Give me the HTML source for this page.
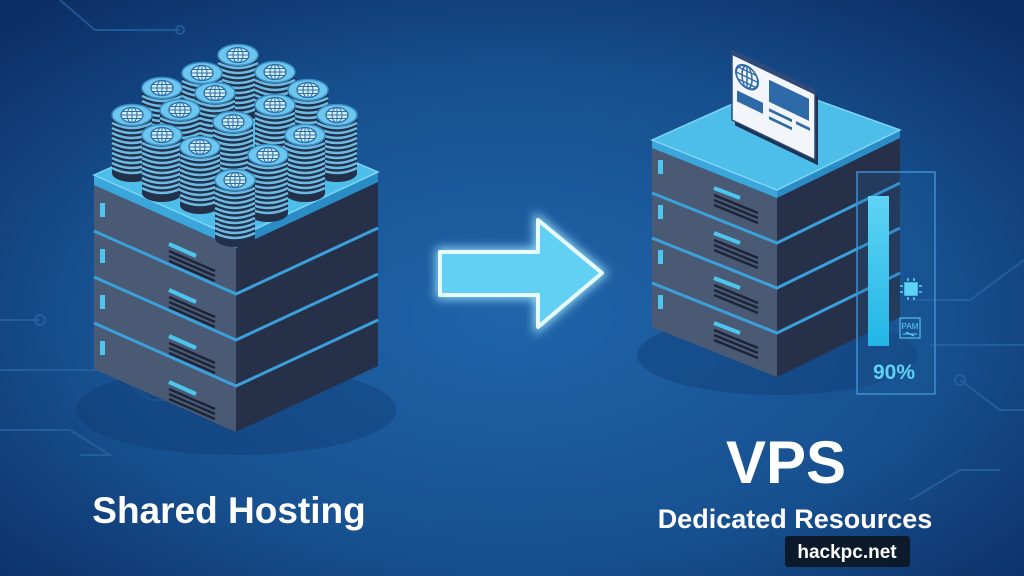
<!DOCTYPE html>
<html><head><meta charset="utf-8"><style>
html,body{margin:0;padding:0;width:1024px;height:576px;overflow:hidden;background:#114080}
svg{display:block}
text{font-family:"Liberation Sans",sans-serif;font-weight:bold}
</style></head><body>
<svg width="1024" height="576" viewBox="0 0 1024 576" xmlns="http://www.w3.org/2000/svg">
<defs>
<radialGradient id="bg" cx="0.5" cy="0.55" r="0.7">
<stop offset="0" stop-color="#1f64aa"/><stop offset="0.6" stop-color="#17508f"/><stop offset="1" stop-color="#0c2f66"/>
</radialGradient>
<linearGradient id="bar" x1="0" y1="0" x2="0" y2="1"><stop offset="0" stop-color="#5fd3f5"/><stop offset="1" stop-color="#22b6e6"/></linearGradient>
<filter id="glow" x="-30%" y="-30%" width="160%" height="160%"><feGaussianBlur stdDeviation="5"/></filter>
<g id="stack">
<rect x="-20" y="0" width="40" height="58" fill="#223049"/>
<ellipse cx="0" cy="58" rx="20" ry="9" fill="#223049"/>
<g stroke="#6cb9e2" stroke-width="2.5" fill="none">
<path d="M-20 8 Q0 18 20 8"/><path d="M-20 13 Q0 23 20 13"/><path d="M-20 18 Q0 28 20 18"/><path d="M-20 23 Q0 33 20 23"/><path d="M-20 28 Q0 38 20 28"/><path d="M-20 33 Q0 43 20 33"/><path d="M-20 38 Q0 48 20 38"/><path d="M-20 43 Q0 53 20 43"/><path d="M-20 48 Q0 58 20 48"/><path d="M-20 53 Q0 63 20 53"/>
</g>
<ellipse cx="0" cy="0" rx="20" ry="10.5" fill="#6cc6ee" stroke="#3a8dc4" stroke-width="1.5"/>
<ellipse cx="0" cy="0" rx="11" ry="7.5" fill="#d6f0fb" stroke="#2d6fa8" stroke-width="1.3"/>
<path d="M-11 0H11M0 -7.5V7.5M-10 -3.5H10M-10 3.5H10" stroke="#2d6fa8" stroke-width="1"/>
<ellipse cx="0" cy="0" rx="5" ry="7.5" fill="none" stroke="#2d6fa8" stroke-width="1"/>
</g>
</defs>
<rect width="1024" height="576" fill="url(#bg)"/>
<g stroke="#2a67a6" stroke-width="2" fill="none" opacity="0.7">
<path d="M60 0 L95 30 H180"/><circle cx="180" cy="30" r="4"/>
<path d="M0 320 H40"/><circle cx="40" cy="320" r="5"/>
<path d="M0 370 H110 L150 400 H215"/>
<path d="M0 430 H70 L110 455 H80"/>
<path d="M910 300 H970 L1024 260"/>
<path d="M960 380 L1000 410 H1024"/><circle cx="960" cy="380" r="5"/>
<path d="M1000 470 H960 L910 500"/>
<path d="M930 345 H1024"/>
</g>

<!-- LEFT SERVER -->
<ellipse cx="236" cy="410" rx="160" ry="45" fill="#0f3a70" opacity="0.4"/>
<path d="M94 185 L236 248 L236 432 L94 369Z" fill="#4b5a74"/>
<path d="M236 248 L378 182 L378 366 L236 432Z" fill="#263149"/>
<g stroke="#3b9fda" stroke-width="3" fill="none">
<path d="M94 231 L236 294 L378 228"/><path d="M94 277 L236 340 L378 274"/><path d="M94 323 L236 386 L378 320"/>
</g>
<g fill="#4cc6ee">
<rect x="100" y="203" width="5" height="14"/><rect x="100" y="249" width="5" height="14"/><rect x="100" y="295" width="5" height="14"/><rect x="100" y="341" width="5" height="14"/>
</g>
<g id="ventL">
<path d="M169 244 L196 256" stroke="#4cc6ee" stroke-width="4"/>
<path d="M169 251 L215 271 M169 256 L215 276 M169 261 L215 281" stroke="#1c2538" stroke-width="2.5"/>
</g>
<use href="#ventL" y="46"/><use href="#ventL" y="92"/><use href="#ventL" y="138"/>
<path d="M94 175 L236 238 L236 248 L94 185Z" fill="#3aa6dc"/>
<path d="M236 238 L378 172 L378 182 L236 248Z" fill="#2a8cc4"/>
<path d="M94 175 L236 112 L378 172 L236 238Z" fill="#4dbde9" stroke="#7dd4f4" stroke-width="1.5"/>
<use href="#stack" x="238" y="55"/>
<use href="#stack" x="275" y="72"/>
<use href="#stack" x="202" y="73"/>
<use href="#stack" x="162" y="88"/>
<use href="#stack" x="308" y="90"/>
<use href="#stack" x="215" y="93"/>
<use href="#stack" x="275" y="105"/>
<use href="#stack" x="180" y="110"/>
<use href="#stack" x="132" y="115"/>
<use href="#stack" x="337" y="115"/>
<use href="#stack" x="233" y="122"/>
<use href="#stack" x="162" y="135"/>
<use href="#stack" x="305" y="135"/>
<use href="#stack" x="200" y="147"/>
<use href="#stack" x="268" y="155"/>
<use href="#stack" x="235" y="180"/>

<!-- ARROW -->
<path d="M440 252 H538 V220 L602 273 L538 327 V295 H440Z" fill="#9fe6ff" stroke="#9fe6ff" stroke-width="8" filter="url(#glow)" opacity="0.9"/>
<path d="M440 252 H538 V220 L602 273 L538 327 V295 H440Z" fill="#62d0f3" stroke="#e6fbff" stroke-width="4" stroke-linejoin="round"/>

<!-- RIGHT SERVER -->
<ellipse cx="777" cy="355" rx="140" ry="40" fill="#0f3a70" opacity="0.4"/>
<path d="M652 148 L777 198 L777 377 L652 327Z" fill="#4b5a74"/>
<path d="M777 198 L900 138 L900 317 L777 377Z" fill="#263149"/>
<g stroke="#3b9fda" stroke-width="3" fill="none">
<path d="M652 193 L777 243 L900 183"/><path d="M652 238 L777 288 L900 228"/><path d="M652 283 L777 333 L900 273"/>
</g>
<g fill="#4cc6ee">
<rect x="658" y="160" width="5" height="14"/><rect x="658" y="205" width="5" height="14"/><rect x="658" y="250" width="5" height="14"/><rect x="658" y="295" width="5" height="14"/>
</g>
<g id="ventR">
<path d="M714 188 L740 198" stroke="#4cc6ee" stroke-width="4"/>
<path d="M714 195 L758 213 M714 200 L758 218 M714 205 L758 223" stroke="#1c2538" stroke-width="2.5"/>
</g>
<use href="#ventR" y="45"/><use href="#ventR" y="90"/><use href="#ventR" y="135"/>
<path d="M652 140 L777 190 L777 198 L652 148Z" fill="#3aa6dc"/>
<path d="M777 190 L900 130 L900 138 L777 198Z" fill="#2a8cc4"/>
<path d="M652 140 L775 85 L900 130 L777 190Z" fill="#4dbde9" stroke="#7dd4f4" stroke-width="1.5"/>
<!-- browser card -->
<g transform="translate(732,50) skewY(25.6)">
<rect x="3" y="4" width="83" height="70" fill="#1d3356"/>
<rect x="0" y="0" width="83" height="70" fill="#f2f6fb" stroke="#2d4a78" stroke-width="1.5"/>
<rect x="0" y="0" width="83" height="5" fill="#2d4a78"/>
<circle cx="15" cy="20" r="11" fill="none" stroke="#2d6aa8" stroke-width="2"/>
<path d="M4 20H26M15 9V31M6 14H24M6 26H24" stroke="#2d6aa8" stroke-width="1.5"/>
<ellipse cx="15" cy="20" rx="5" ry="11" fill="none" stroke="#2d6aa8" stroke-width="1.5"/>
<rect x="37" y="12" width="40" height="22" fill="#2f6aa8"/>
<rect x="5" y="38" width="26" height="11" fill="#2f6aa8"/>
<path d="M37 42H60M64 42H78M37 50H60" stroke="#2f6aa8" stroke-width="3"/>
</g>
<!-- resource panel -->
<rect x="857" y="172" width="78" height="222" fill="#1a5a9a" fill-opacity="0.25" stroke="#3e8ed0" stroke-width="1.5"/>
<rect x="868" y="196" width="21" height="150" fill="url(#bar)"/>
<g stroke="#5fd3f5" stroke-width="1.5" fill="none">
<rect x="905" y="283" width="12" height="12" fill="#5fd3f5"/>
<path d="M908 278V281M914 278V281M908 297V300M914 297V300M900 286H903M900 292H903M919 286H922M919 292H922"/>
<rect x="900" y="318" width="20" height="20" stroke-width="1"/>
</g>
<text x="910" y="329" font-size="8" fill="#5fd3f5" text-anchor="middle" style="font-weight:normal">PAM</text>
<path d="M903 334 L917 334 M906 332 L914 336" stroke="#5fd3f5" stroke-width="1"/>
<text x="894" y="379" font-size="21" fill="#5fd3f5" text-anchor="middle">90%</text>

<!-- LABELS -->
<text x="229" y="523" font-size="37" fill="#fff" text-anchor="middle">Shared Hosting</text>
<text x="786" y="483" font-size="60" fill="#fff" text-anchor="middle">VPS</text>
<text x="795" y="528" font-size="27" fill="#fff" text-anchor="middle">Dedicated Resources</text>
<rect x="785" y="536" width="125" height="31" rx="3" fill="#0c1a2c"/>
<text x="847" y="558" font-size="19" fill="#fff" text-anchor="middle">hackpc.net</text>
</svg>
</body></html>
